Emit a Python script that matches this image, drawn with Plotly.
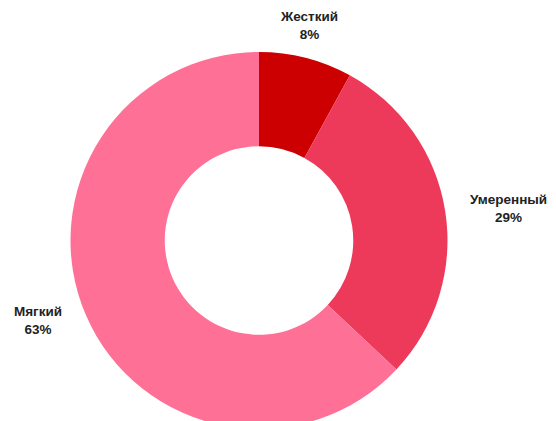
import numpy as np
import plotly.graph_objects as go

# ── Data ──────────────────────────────────────────────────────────────────────
labels = ["Жесткий", "Умеренный", "Мягкий"]
values = [8, 29, 63]
colors = ["#CC0000", "#EE3A5A", "#FF7096"]

# ── Layout sizes ──────────────────────────────────────────────────────────────
WIDTH, HEIGHT = 556, 421
MARGIN = dict(l=0, r=54, t=44, b=0)
LABEL_GAP = 14  # px between ring edge and label
SIDE_SHIFT = 9  # extra horizontal push for side labels

plot_w = WIDTH - MARGIN["l"] - MARGIN["r"]
plot_h = HEIGHT - MARGIN["t"] - MARGIN["b"]
radius = min(plot_w, plot_h) / 2

fig = go.Figure()
fig.add_trace(go.Pie(
    labels=labels,
    values=values,
    hole=0.5,
    sort=False,
    direction="clockwise",
    rotation=0,
    marker=dict(colors=colors, line=dict(width=0)),
    textinfo="none",
    hoverinfo="label+percent",
    showlegend=False,
))

# Outside labels placed along each slice's mid-angle (clockwise from 12 o'clock)
total = sum(values)
cum = np.cumsum([0] + values[:-1])
for lab, v, c in zip(labels, values, cum):
    theta = 2 * np.pi * (c + v / 2) / total
    s, co = np.sin(theta), np.cos(theta)
    R = radius + LABEL_GAP
    if s > 0.5:
        xanchor, yanchor, xshift = "left", "middle", SIDE_SHIFT
    elif s < -0.5:
        xanchor, yanchor, xshift = "right", "middle", -SIDE_SHIFT
    else:
        xanchor, yanchor, xshift = "center", ("bottom" if co > 0 else "top"), 0
    fig.add_annotation(
        x=0.5 + R * s / plot_w,
        y=0.5 + R * co / plot_h,
        xref="paper",
        yref="paper",
        xanchor=xanchor,
        yanchor=yanchor,
        xshift=xshift,
        text=f"<b>{lab}</b><br><b>{round(100 * v / total)}%</b>",
        showarrow=False,
        align="center",
        font=dict(family="Liberation Sans, Arial, sans-serif", size=13.5, color="#222222"),
    )

fig.update_layout(
    width=WIDTH,
    height=HEIGHT,
    margin=MARGIN,
    paper_bgcolor="white",
    plot_bgcolor="white",
)

fig.write_html("out.html")
